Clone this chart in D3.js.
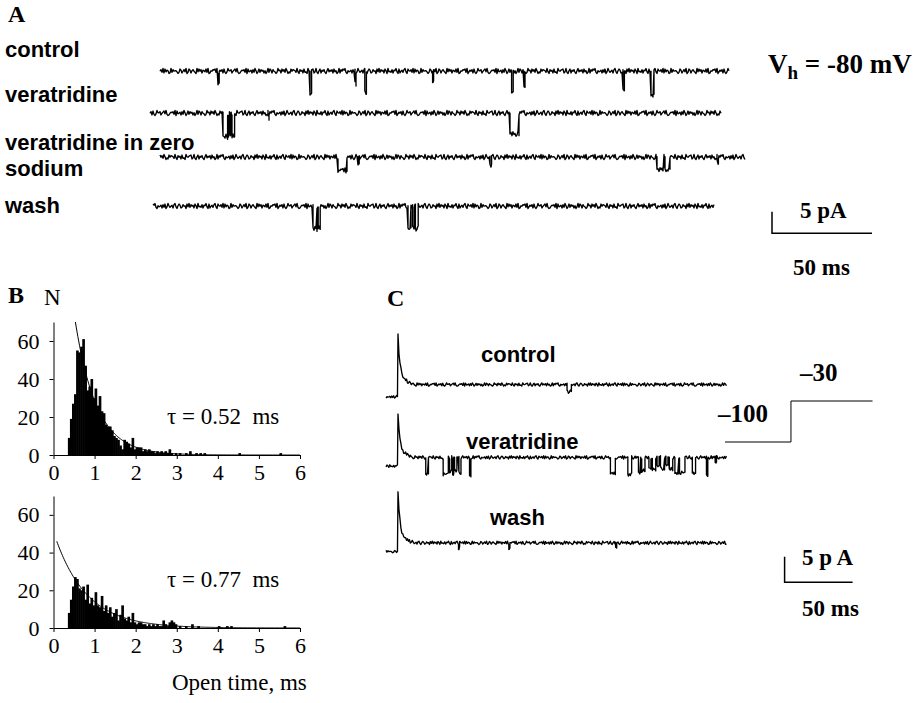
<!DOCTYPE html>
<html>
<head>
<meta charset="utf-8">
<script src="https://cdn.jsdelivr.net/npm/d3@7"></script>
<style>
body { margin: 0; background: #fff; }
text { fill: #000; }
.sans { font-family: "Liberation Sans", Arial, sans-serif; font-weight: bold; }
.serif { font-family: "Liberation Serif", "Times New Roman", serif; }
.trace { fill: none; stroke: #000; stroke-width: 1.35; stroke-linejoin: round; }
</style>
</head>
<body>
<svg id="fig" width="914" height="703"></svg>
<script>
// ---------- panel A : single channel records, Vh = -80 mV ----------
let namesA = ["control", "veratridine", "veratridine in zero", "sodium", "wash"];
let lengthA = [285, 286, 293, 281];          // ms
// openings as [start ms, end ms, amplitude pA]
let eventsA = [
    [[29, 29.6, 2.6], [75, 75.8, 5.5], [97.5, 98, 2.9], [102.4, 103.2, 5.2], [136.3, 136.8, 2.6],
     [175.8, 176.6, 5], [182, 182.5, 3.6], [231.5, 232.2, 4.5], [245.5, 247, 5.7]],
    [[36.5, 38.8, 5.5], [39.2, 39.7, 5], [40.1, 40.6, 5.2], [41, 42.3, 5.3], [59, 59.5, 1.2], [180, 184.5, 4.8]],
    [[89, 93.5, 3.1], [99, 99.6, 1.9], [165, 165.8, 1.9], [248.5, 252, 2.9], [252.5, 255, 2.8], [278.5, 279.2, 1.2]],
    [[80, 82, 5.3], [82.6, 83.6, 5.1], [127.5, 129, 5.2], [129.8, 130.6, 5], [131.2, 132.6, 5.2]]
];

// ---------- panel B : open time histograms (0.05 ms bins from 0.35 ms) ----------
let binStart = 0.35, binWidth = 0.05;
let counts1 = [9, 19, 27, 32, 55, 54, 57, 61, 47, 34, 36, 40, 30, 35, 26, 31, 23, 22, 16, 15,
               15, 13, 10, 9, 8, 5, 3, 8, 7, 6, 4, 9, 3, 4, 4, 4, 2, 3, 2, 3,
               2, 2, 1, 2, 1, 2, 1, 2, 1, 3, 1, 0, 1];
let tail1 = [[3.05, 1], [3.2, 1], [3.3, 2], [3.45, 1], [3.55, 1], [3.65, 1], [4.5, 1], [5.5, 1]];
let counts2 = [8, 15, 22, 27, 26, 21, 20, 22, 15, 23, 13, 16, 12, 19, 12, 11, 17, 9, 12, 8,
               11, 6, 8, 10, 4, 7, 12, 5, 4, 6, 3, 8, 3, 2, 3, 3, 2, 2, 1, 2,
               1, 2, 1, 2, 1, 1, 4, 2, 1, 3, 4, 3, 2];
let tail2 = [[3.05, 1], [3.2, 1], [3.35, 2], [3.5, 1], [4.0, 1], [4.2, 1], [4.3, 1], [5.6, 1]];
let tau = [0.52, 0.77];          // ms, exponential fits
let fitAmp = [195, 51];          // N at t = 0
let fitStart = [0.5, 0.08];
let xTicksB = [0, 1, 2, 3, 4, 5, 6];
let yTicksB = [0, 20, 40, 60];

// ---------- panel C : depolarisation to -30 mV ----------
let namesC = ["control", "veratridine", "wash"];
let lengthC = 242, preC = 8.8;             // ms after / before the step
let prePulseC = [-2.4, -1.7, -1.7];        // pA before the step
let peakC = [9.9, 8.5, 10];                // capacity transient, pA
let transientT = [0, 0.5, 1.2, 2.5, 4, 5, 8, 12];
let transientF = [1, 0.7, 0.49, 0.24, 0.14, 0.1, 0.04, 0];
let eventsC = [
    [[124.3, 127.5, 1.4]],
    [[20.4, 22.4, 3.2], [33.2, 37, 3.3], [38, 39.5, 2.8], [40.2, 41, 3.2], [41.6, 43.3, 2.6], [44.8, 46.3, 3],
     [52.6, 53.6, 3.5], [156.2, 159.8, 3.2], [169, 171.8, 3.4], [176.8, 178.5, 3], [179.2, 181.6, 2.6],
     [184.5, 186, 2], [187, 189.5, 2.4], [190.5, 192, 1.8], [193, 196, 2.2], [197, 198.5, 1.6],
     [199.5, 202, 2.3], [203.6, 206.5, 3.1], [207, 211, 3], [216.4, 218.8, 3.1], [226.8, 227.8, 3.6],
     [233.2, 234.2, 1.2]],
    [[44.5, 45.3, 1], [81.5, 82.3, 1], [160, 160.8, 1]]
];
let protocolT = [0, 48.5, 108.5];
let protocolV = [-100, -30, -30];

// background noise of the records, read as digits 0-9
let noiseDigits = "4729183650192745530286147390286157420938471653829015476829036471820395571468392014657290834617295038274615039286174302956184729503184765293074618230954678139205816472059364718350291748692053461728039524617930586127450839274618509342716593081462793085";

// ---------- layout ----------
let svg = d3.select("#fig");
svg.append("rect").attr("width", 914).attr("height", 703).attr("fill", "#fff");

let xA = d3.scaleLinear().domain([0, 50]).range([0, 100]);
let yA = d3.scaleLinear().domain([0, 5]).range([0, -21.6]);
let x0A = [160, 150, 160, 153], y0A = [71, 113, 157, 206];

let xC = d3.scaleLinear().domain([0, 50]).range([0, 68]);
let yC = d3.scaleLinear().domain([0, 5]).range([0, -25.5]);
let stepX = 398, y0C = [384.5, 457.4, 542.8];

function noise(i) {
    let n = noiseDigits.length;
    return (+noiseDigits[((i % n) + n) % n] - 4.5) / 4.5;
}

function openAt(events, t) {
    let a = 0;
    events.forEach(function (e) { if (t >= e[0] && t < e[1]) a += e[2]; });
    return a;
}

// noise + openings (+ deterministic base), with vertical edges at each opening
function buildTrace(t0, t1, step, events, amp, offset, base) {
    let marks = d3.range(t0, t1, step).map(function (t) { return {t: t, edge: false}; });
    events.forEach(function (e) {
        if (e[0] >= t0 && e[0] < t1) marks.push({t: e[0], edge: true});
        if (e[1] >= t0 && e[1] < t1) marks.push({t: e[1], edge: true});
    });
    marks.sort(function (a, b) { return a.t - b.t; });
    let pts = [];
    marks.forEach(function (m) {
        let v = noise(Math.round(m.t / step) + offset) * amp + base(m.t);
        if (m.edge) {
            pts.push([m.t, v - openAt(events, m.t - 1e-6)]);
            pts.push([m.t, v - openAt(events, m.t + 1e-6)]);
        } else {
            pts.push([m.t, v - openAt(events, m.t)]);
        }
    });
    return pts;
}

// ---------- panel A ----------
svg.append("text").attr("class", "serif").attr("x", 8).attr("y", 22)
    .style("font-size", "24px").style("font-weight", "bold").text("A");

let labelYA = [57, 102, 150, 176, 213];
namesA.forEach(function (n, i) {
    svg.append("text").attr("class", "sans").attr("x", 5).attr("y", labelYA[i])
        .style("font-size", "22px").text(n);
});

let lineA = d3.line().x(function (d) { return xA(d[0]); }).y(function (d) { return yA(d[1]); });
lengthA.forEach(function (len, i) {
    let pts = buildTrace(0, len, 0.5, eventsA[i], 0.58, i * 61, function () { return 0; });
    svg.append("g").attr("transform", "translate(" + x0A[i] + "," + y0A[i] + ")")
        .append("path").attr("class", "trace").attr("d", lineA(pts));
});

let vh = svg.append("text").attr("class", "serif").attr("x", 768).attr("y", 73)
    .style("font-size", "27px").style("font-weight", "bold");
vh.append("tspan").text("V");
vh.append("tspan").attr("dy", 6).style("font-size", "19px").text("h");
vh.append("tspan").attr("dy", -6).text(" = -80 mV");

// scale bar A
let sbA = svg.append("g").attr("transform", "translate(772,233.3)");
sbA.append("path").attr("fill", "none").attr("stroke", "#000").attr("stroke-width", 1.5)
    .attr("d", "M0," + yA(5) + "V0H" + xA(50));
svg.append("text").attr("class", "serif").attr("x", 800).attr("y", 218)
    .style("font-size", "23px").style("font-weight", "bold").text("5 pA");
svg.append("text").attr("class", "serif").attr("x", 793).attr("y", 275)
    .style("font-size", "23px").style("font-weight", "bold").text("50 ms");

// ---------- panel B ----------
svg.append("text").attr("class", "serif").attr("x", 8).attr("y", 303)
    .style("font-size", "24px").style("font-weight", "bold").text("B");
svg.append("text").attr("class", "serif").attr("x", 44).attr("y", 305)
    .style("font-size", "23px").text("N");

let xB = d3.scaleLinear().domain([0, 6]).range([53.5, 300]);
let panelsB = [
    {counts: counts1, tail: tail1, y: d3.scaleLinear().domain([0, 70]).range([455, 322]), tauY: 424},
    {counts: counts2, tail: tail2, y: d3.scaleLinear().domain([0, 70]).range([628, 496]), tauY: 587}
];

panelsB.forEach(function (p, k) {
    let g = svg.append("g");
    let bars = p.counts.map(function (c, i) { return [binStart + i * binWidth, c]; }).concat(p.tail);
    g.selectAll("rect").data(bars.filter(function (d) { return d[1] > 0; })).enter().append("rect")
        .attr("x", function (d) { return xB(d[0]); })
        .attr("width", xB(binWidth) - xB(0) + 0.6)
        .attr("y", function (d) { return p.y(d[1]); })
        .attr("height", function (d) { return p.y(0) - p.y(d[1]); })
        .attr("fill", "#000");

    // exponential fit
    let t0 = Math.max(fitStart[k], tau[k] * Math.log(fitAmp[k] / 70));
    let fit = d3.range(t0, 6.001, 0.02).map(function (t) { return [t, fitAmp[k] * Math.exp(-t / tau[k])]; });
    g.append("path").attr("fill", "none").attr("stroke", "#000").attr("stroke-width", 1)
        .attr("d", d3.line().x(function (d) { return xB(d[0]); }).y(function (d) { return p.y(d[1]); })(fit));

    let ax = g.append("g").attr("transform", "translate(0," + p.y(0) + ")")
        .call(d3.axisBottom(xB).tickValues(xTicksB).tickFormat(d3.format("d"))
            .tickSize(4).tickSizeOuter(0).tickPadding(5));
    let ay = g.append("g").attr("transform", "translate(" + xB(0) + ",0)")
        .call(d3.axisLeft(p.y).tickValues(yTicksB).tickFormat(d3.format("d"))
            .tickSize(4).tickSizeOuter(0).tickPadding(10));
    [ax, ay].forEach(function (a) {
        a.selectAll("text").attr("class", "serif").style("font-size", "22px").attr("fill", "#000");
        a.selectAll("line,path").attr("stroke", "#000");
    });

    g.append("text").attr("class", "serif").attr("x", 167).attr("y", p.tauY)
        .style("font-size", "23px").style("white-space", "pre")
        .text("\u03c4 = " + tau[k].toFixed(2) + "  ms");
});

svg.append("text").attr("class", "serif").attr("x", 172).attr("y", 690)
    .style("font-size", "23px").text("Open time, ms");

// ---------- panel C ----------
svg.append("text").attr("class", "serif").attr("x", 387).attr("y", 306)
    .style("font-size", "24px").style("font-weight", "bold").text("C");

let labelC = [[481, 362], [466, 449], [490, 525]];
let transient = d3.scaleLinear().domain(transientT).range(transientF).clamp(true);
let lineC = d3.line().x(function (d) { return xC(d[0]); }).y(function (d) { return yC(d[1]); });

namesC.forEach(function (n, i) {
    svg.append("text").attr("class", "sans").attr("x", labelC[i][0]).attr("y", labelC[i][1])
        .style("font-size", "22px").text(n);
    let pre = buildTrace(-preC, 0.001, 0.7, [], 0.25, 200 + i * 37, function () { return prePulseC[i]; });
    let post = buildTrace(0, lengthC, 0.7, eventsC[i], 0.32, 17 + i * 83, function (t) {
        return peakC[i] * transient(t);
    });
    post[0][1] = peakC[i];
    svg.append("g").attr("transform", "translate(" + stepX + "," + y0C[i] + ")")
        .append("path").attr("class", "trace").attr("d", lineC(pre.concat(post)));
});

// voltage protocol
let xP = d3.scaleLinear().domain([0, 50]).range([725, 725 + 68]);
let yP = d3.scaleLinear().domain([-100, -30]).range([442, 401]);
svg.append("path").attr("fill", "none").attr("stroke", "#000").attr("stroke-width", 1)
    .attr("d", d3.line().curve(d3.curveStepAfter)
        .x(function (d, i) { return xP(protocolT[i]); })
        .y(function (d) { return yP(d); })(protocolV));
svg.append("text").attr("class", "serif").attr("x", 718).attr("y", 422)
    .style("font-size", "25px").style("font-weight", "bold").text("\u2013100");
svg.append("text").attr("class", "serif").attr("x", 800).attr("y", 381)
    .style("font-size", "25px").style("font-weight", "bold").text("\u201330");

// scale bar C
let sbC = svg.append("g").attr("transform", "translate(784.6,582.2)");
sbC.append("path").attr("fill", "none").attr("stroke", "#000").attr("stroke-width", 1.5)
    .attr("d", "M0," + yC(5) + "V0H" + xC(50));
svg.append("text").attr("class", "serif").attr("x", 802).attr("y", 565)
    .style("font-size", "23px").style("font-weight", "bold").style("white-space", "pre").text("5 p A");
svg.append("text").attr("class", "serif").attr("x", 802).attr("y", 616)
    .style("font-size", "23px").style("font-weight", "bold").text("50 ms");
</script>
</body>
</html>
